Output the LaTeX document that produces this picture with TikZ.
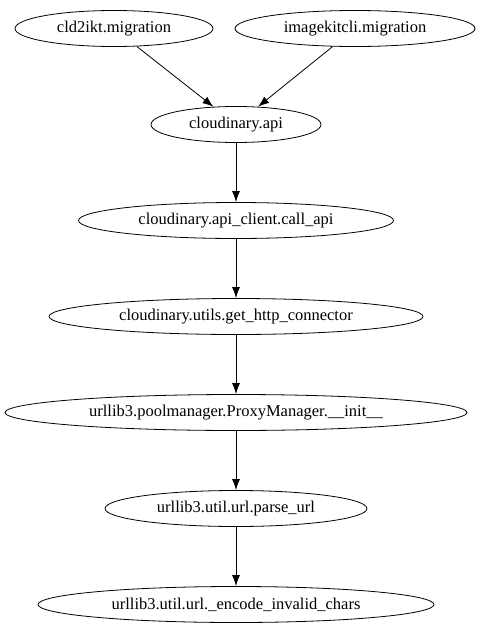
\documentclass[tikz,border=0pt]{standalone}
\usepackage{fontspec}
\setmainfont{Liberation Serif}
\newfontfamily\modfont{Liberation Serif}
\usetikzlibrary{shapes.geometric}
\usetikzlibrary{arrows.meta}

\begin{document}
\begin{tikzpicture}[x=1pt,y=-1pt,
    mod/.style={ellipse,draw,line width=0.8pt,inner sep=0pt,minimum height=36pt,font=\modfont\fontsize{16.5}{18}\selectfont},
    dep/.style={-{Latex[length=11pt,width=8pt]},line width=0.8pt}
    ]
  \useasboundingbox (0,0) rectangle (480,635);

  \node[mod,minimum width=198pt] (cld)   at (114,28.5)  {cld2ikt.migration};
  \node[mod,minimum width=240pt] (ikc)   at (355,28.5)  {imagekitcli.migration};
  \node[mod,minimum width=170pt] (api)   at (236,124.5) {cloudinary.api};
  \node[mod,minimum width=315pt] (call)  at (236,220.5) {cloudinary.api\_client.call\_api};
  \node[mod,minimum width=374pt] (conn)  at (236,316.5) {cloudinary.utils.get\_http\_connector};
  \node[mod,minimum width=462pt] (proxy) at (236,412.5) {urllib3.poolmanager.ProxyManager.\_\_init\_\_};
  \node[mod,minimum width=262pt] (parse) at (236,508.5) {urllib3.util.url.parse\_url};
  \node[mod,minimum width=396pt] (enc)   at (236,604.5) {urllib3.util.url.\_encode\_invalid\_chars};

  \draw[dep] (cld)   -- (api);
  \draw[dep] (ikc)   -- (api);
  \draw[dep] (api)   -- (call);
  \draw[dep] (call)  -- (conn);
  \draw[dep] (conn)  -- (proxy);
  \draw[dep] (proxy) -- (parse);
  \draw[dep] (parse) -- (enc);
\end{tikzpicture}
\end{document}
